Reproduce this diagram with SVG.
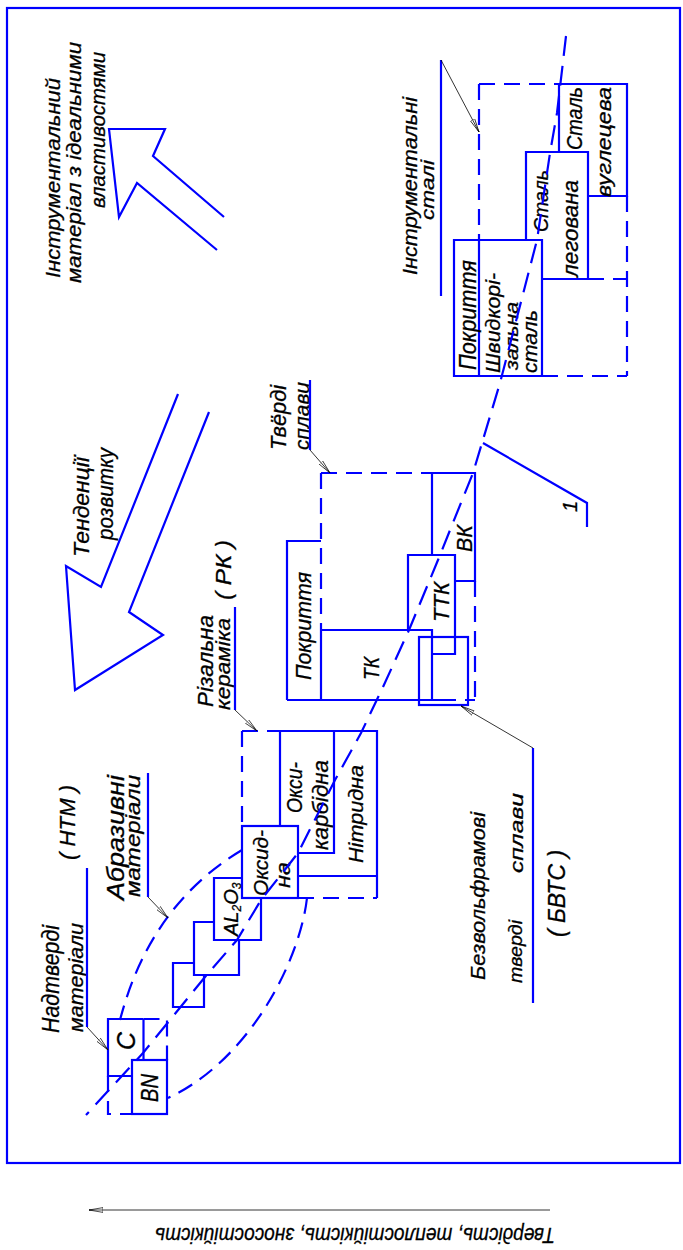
<svg xmlns="http://www.w3.org/2000/svg" width="683" height="1250" viewBox="0 0 683 1250">
<defs>
<style>
.b{stroke:#0000ff;stroke-width:2.2;fill:none;stroke-linecap:butt}
.d{stroke-dasharray:16 9}
.dl{stroke-dasharray:20 10}
.k{stroke:#000;stroke-width:0.8;fill:none}
.t{font-family:"Liberation Sans",Arial,sans-serif;font-style:italic;fill:#000;stroke:#000;stroke-width:0.3}
</style>
<marker id="ah" viewBox="0 0 14 6" refX="14" refY="3" markerWidth="14" markerHeight="6" markerUnits="userSpaceOnUse" orient="auto">
<path d="M0,0.6 L14,3 L0,5.4 Z M0,3 L14,3" fill="#fff" stroke="#000" stroke-width="0.7"/>
</marker>
</defs>
<rect width="683" height="1250" fill="#fff"/>

<g id="frame"><rect class="b" x="7" y="8" width="673" height="1155" stroke-width="2.5"/></g>

<g id="arrow-ideal"><polyline class="b" points="224,217 153,156 165,129 109,129 119,217 137,183 217,250"/></g>
<g id="label-ideal">
<text class="t" font-size="20" transform="translate(60,278) rotate(-90)" textLength="200" lengthAdjust="spacingAndGlyphs">Інструментальний</text>
<text class="t" font-size="20" transform="translate(81,283) rotate(-90)" textLength="241" lengthAdjust="spacingAndGlyphs">матеріал з ідеальними</text>
<text class="t" font-size="20" transform="translate(105,208) rotate(-90)" textLength="156" lengthAdjust="spacingAndGlyphs">властивостями</text>
</g>

<g id="arrow-trend"><polyline class="b" points="178,394 101,587 66,566 75,690 163,635 129,612 209,412"/></g>
<g id="label-trend">
<text class="t" font-size="22" transform="translate(89,557) rotate(-90)" textLength="100" lengthAdjust="spacingAndGlyphs">Тенденції</text>
<text class="t" font-size="22" transform="translate(113,540) rotate(-90)" textLength="92" lengthAdjust="spacingAndGlyphs">розвитку</text>
</g>

<g id="steel-group">
<path class="b d" d="M479,84 H559 M479,84 V240 M627,196 V376 M542,376 H627 M588,279 H627"/>
<path class="b" d="M559,84 H627 V196 H588 M559,84 V152 M526,240 V152 H588 V279 H542 M454,240 H542 V376 H454 Z M479,240 V376"/>
<text class="t" font-size="22" transform="translate(582,150) rotate(-90)" textLength="63" lengthAdjust="spacingAndGlyphs">Сталь</text>
<text class="t" font-size="21" transform="translate(611,197) rotate(-90)" textLength="110" lengthAdjust="spacingAndGlyphs">вуглецева</text>
<text class="t" font-size="21" transform="translate(548,232) rotate(-90)" textLength="62" lengthAdjust="spacingAndGlyphs">Сталь</text>
<text class="t" font-size="22" transform="translate(578,277) rotate(-90)" textLength="97" lengthAdjust="spacingAndGlyphs">легована</text>
<text class="t" font-size="23" transform="translate(476,370) rotate(-90)" textLength="110" lengthAdjust="spacingAndGlyphs">Покриття</text>
<text class="t" font-size="21" transform="translate(500,373) rotate(-90)" textLength="100" lengthAdjust="spacingAndGlyphs">Швидкорі-</text>
<text class="t" font-size="19" transform="translate(518,370) rotate(-90)" textLength="68" lengthAdjust="spacingAndGlyphs">зальна</text>
<text class="t" font-size="20" transform="translate(537,373) rotate(-90)" textLength="63" lengthAdjust="spacingAndGlyphs">сталь</text>
</g>
<g id="label-steel">
<text class="t" font-size="21" transform="translate(417,275) rotate(-90)" textLength="178" lengthAdjust="spacingAndGlyphs">Інструментальні</text>
<text class="t" font-size="19" transform="translate(434,220) rotate(-90)" textLength="60" lengthAdjust="spacingAndGlyphs">сталі</text>
</g>

<g id="hardalloy-group">
<path class="b d" d="M321,473 H432 M321,473 V630 M475,581 V700 M440,700 H475"/>
<path class="b" d="M432,473 H475 V581 H455 M432,473 V555 M408,630 V555 H455 V654 H432 M321,630 H432 V700 M287,700 H440 M321,630 V700 M321,541 H287 V700"/>
<rect class="b" x="419" y="637" width="49" height="68"/>
<text class="t" font-size="22" transform="translate(311,680) rotate(-90)" textLength="108" lengthAdjust="spacingAndGlyphs">Покриття</text>
<text class="t" font-size="22" transform="translate(379,680) rotate(-90)" textLength="23" lengthAdjust="spacingAndGlyphs">ТК</text>
<text class="t" font-size="22" transform="translate(449,622) rotate(-90)" textLength="40" lengthAdjust="spacingAndGlyphs">ТТК</text>
<text class="t" font-size="22" transform="translate(472,552) rotate(-90)" textLength="27" lengthAdjust="spacingAndGlyphs">ВК</text>
</g>
<g id="label-hardalloy">
<text class="t" font-size="22" transform="translate(286,450) rotate(-90)" textLength="65" lengthAdjust="spacingAndGlyphs">Твёрді</text>
<text class="t" font-size="21" transform="translate(309,450) rotate(-90)" textLength="68" lengthAdjust="spacingAndGlyphs">сплави</text>
</g>

<g id="ceramic-group">
<path class="b d" d="M242,731 H280 M242,731 V826 M298,898 H377"/>
<path class="b" d="M280,731 H377 V898 M280,731 V826 M334,731 V853 H298 M298,876 H377"/>
<rect class="b" x="242" y="826" width="56" height="72"/>
<text class="t" font-size="21" transform="translate(268,896) rotate(-90)" textLength="66" lengthAdjust="spacingAndGlyphs">Оксид-</text>
<text class="t" font-size="20" transform="translate(290,888) rotate(-90)" textLength="26" lengthAdjust="spacingAndGlyphs">на</text>
<text class="t" font-size="22" transform="translate(302,813) rotate(-90)" textLength="51" lengthAdjust="spacingAndGlyphs">Окси-</text>
<text class="t" font-size="22" transform="translate(328,850) rotate(-90)" textLength="90" lengthAdjust="spacingAndGlyphs">карбідна</text>
<text class="t" font-size="21" transform="translate(363,863) rotate(-90)" textLength="98" lengthAdjust="spacingAndGlyphs">Нітридна</text>
</g>
<g id="label-ceramic">
<text class="t" font-size="22" transform="translate(213,707) rotate(-90)" textLength="92" lengthAdjust="spacingAndGlyphs">Різальна</text>
<text class="t" font-size="21" transform="translate(230,710) rotate(-90)" textLength="92" lengthAdjust="spacingAndGlyphs">кераміка</text>
<text class="t" font-size="22" transform="translate(231,600) rotate(-90)" textLength="60" lengthAdjust="spacingAndGlyphs">( РК )</text>
</g>

<g id="abrasive-group">
<path class="b" d="M242,878 H214 V940 H261 V898 M214,922 H194 V975 H239 V940 M194,963 H173 V1007 H204 V975"/>
<text class="t" font-size="20" transform="translate(238,936) rotate(-90)">AL<tspan font-size="12" dy="3">2</tspan><tspan dy="-3">O</tspan><tspan font-size="12" dy="3">3</tspan></text>
</g>
<g id="label-abrasive">
<text class="t" font-size="23" transform="translate(124,900) rotate(-90)" textLength="125" lengthAdjust="spacingAndGlyphs">Абразивні</text>
<text class="t" font-size="20" transform="translate(140,897) rotate(-90)" textLength="122" lengthAdjust="spacingAndGlyphs">матеріали</text>
</g>

<g id="superhard-group">
<path class="b d" d="M143.5,1019 H167 V1060 M108,1076 V1114 H132"/>
<path class="b" d="M143.5,1019 H108 V1076 H132 M143.5,1019 V1060"/>
<rect class="b" x="132" y="1060" width="35" height="54"/>
<text class="t" font-size="25" transform="translate(135,1050) rotate(-90)">C</text>
<text class="t" font-size="24" transform="translate(158,1102) rotate(-90)" textLength="28" lengthAdjust="spacingAndGlyphs">BN</text>
</g>
<g id="label-superhard">
<text class="t" font-size="23" transform="translate(59,1033) rotate(-90)" textLength="108" lengthAdjust="spacingAndGlyphs">Надтверді</text>
<text class="t" font-size="21" transform="translate(83,1032) rotate(-90)" textLength="109" lengthAdjust="spacingAndGlyphs">матеріали</text>
<text class="t" font-size="22" transform="translate(75,860) rotate(-90)" textLength="75" lengthAdjust="spacingAndGlyphs">( НТМ )</text>
</g>

<g id="label-bvts">
<text class="t" font-size="21" transform="translate(485,980) rotate(-90)" textLength="168" lengthAdjust="spacingAndGlyphs">Безвольфрамові</text>
<text class="t" font-size="19" transform="translate(522,983) rotate(-90)" textLength="63" lengthAdjust="spacingAndGlyphs">тверді</text>
<text class="t" font-size="19" transform="translate(523,873) rotate(-90)" textLength="80" lengthAdjust="spacingAndGlyphs">сплави</text>
<text class="t" font-size="23" transform="translate(565,937) rotate(-90)" textLength="87" lengthAdjust="spacingAndGlyphs">( БВТС )</text>
</g>

<g id="label-1">
<text class="t" font-size="20" transform="translate(577,512) rotate(-90)">1</text>
</g>

<g id="axis-label">
<text class="t" font-size="22" transform="translate(555,1228) rotate(180)" textLength="400" lengthAdjust="spacingAndGlyphs">Твердість, теплостійкість, зносостійкість</text>
</g>

<g id="connectors">
<path class="b dl" d="M566,36 L557,113 L550,153 L537,240 L500,383 L473,473 L438,560 L409,630 L383,687 L361,733 L335,780 L298,853 L261,900 L237,940 L205,977 L170,1020 L143,1053 L86,1115"/>
<path class="b d" d="M242,850 Q150,905 120,1020"/>
<path class="b d" d="M307,898 C300,960 250,1060 168,1098"/>
<path class="b" d="M441,60 V296 M310,380 V450 M235,607 V710 M148,773 V897 M87,868 V1027 M533,748 V1003"/>
<polyline class="b" points="483,443 587,503 587,527"/>
<g class="k" marker-end="url(#ah)">
<line x1="441" y1="60" x2="479" y2="132"/>
<line x1="310" y1="450" x2="330" y2="473"/>
<line x1="235" y1="710" x2="257" y2="731"/>
<line x1="148" y1="897" x2="168" y2="918"/>
<line x1="87" y1="1027" x2="108" y2="1050"/>
<line x1="533" y1="748" x2="461" y2="706"/>
<line x1="550" y1="1210" x2="89" y2="1210"/>
</g>
</g>
</svg>
